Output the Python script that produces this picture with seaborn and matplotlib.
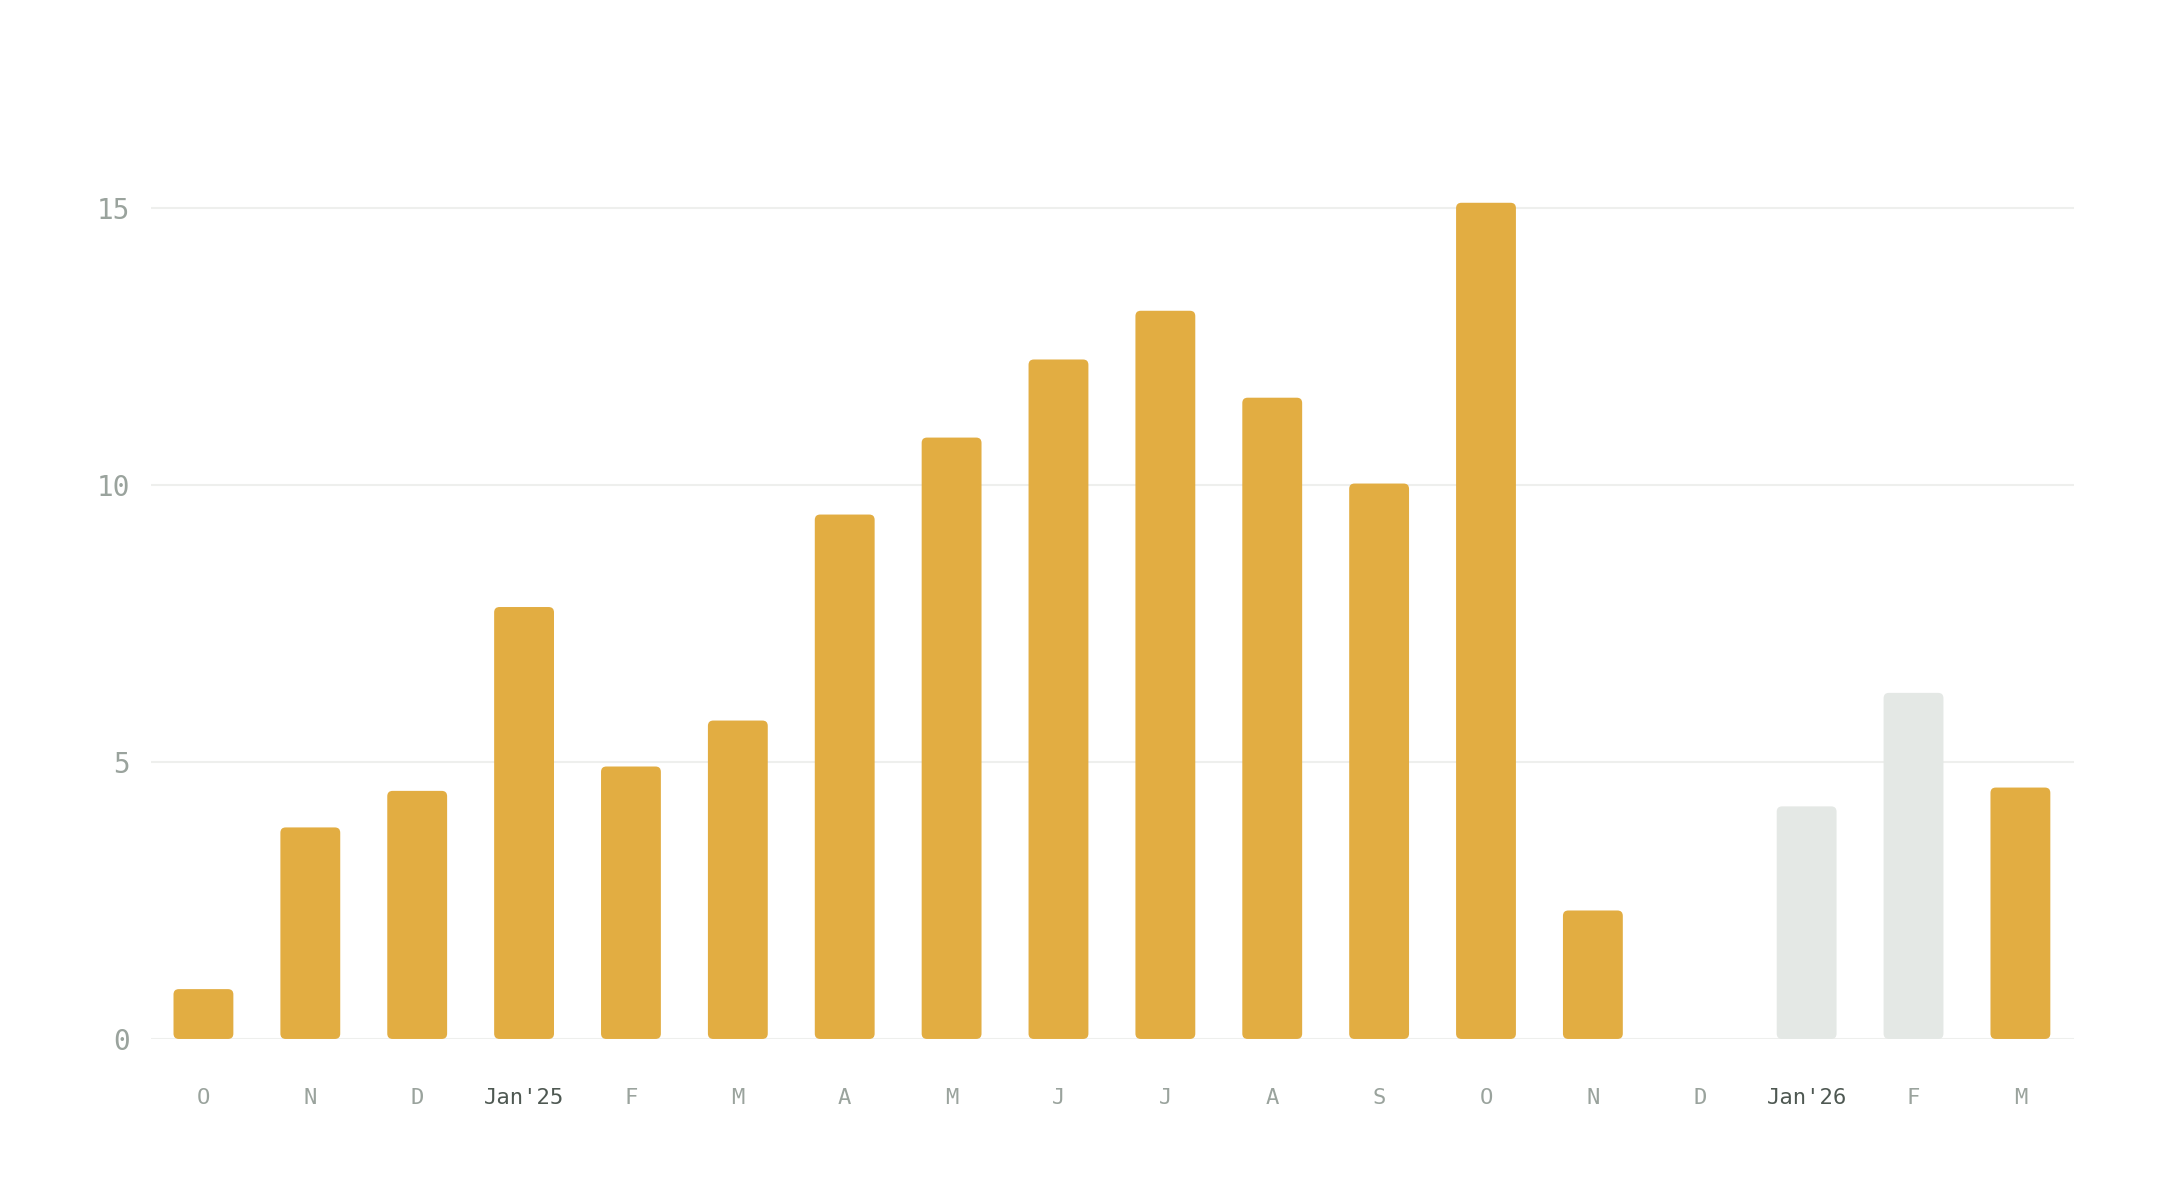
import matplotlib
matplotlib.use("Agg")
import matplotlib.pyplot as plt
from matplotlib.patches import FancyBboxPatch
import seaborn as sns
import pandas as pd

# monthly values, Oct 2024 .. Mar 2026
months = ["O", "N", "D", "Jan'25", "F", "M", "A", "M", "J", "J", "A", "S",
          "O", "N", "D", "Jan'26", "F", "M"]
values = [0.9, 3.82, 4.48, 7.8, 4.92, 5.75, 9.47, 10.86, 12.27, 13.15, 11.58, 10.03,
          15.1, 2.32, 0.0, 4.2, 6.25, 4.54]
status = ["actual"] * 15 + ["pending", "pending", "actual"]

palette = {"actual": "#E2AD42", "pending": "#E4E8E5"}

df = pd.DataFrame({"pos": range(len(months)), "value": values, "status": status})

sns.set_style("white")
plt.rcParams["font.family"] = ["DejaVu Sans Mono"]

fig = plt.figure(figsize=(21.58, 11.84), dpi=100)
ax = fig.add_axes([0.070, 0.1225, 0.891, 0.84])

sns.barplot(data=df, x="pos", y="value", hue="status", palette=palette,
            saturation=1, dodge=False, legend=False, width=0.56, ax=ax, zorder=3)

# swap plain rectangles for rounded ones
aspect = 1.93
for p in list(ax.patches):
    x, y = p.get_x(), p.get_y()
    w, h = p.get_width(), p.get_height()
    fc = p.get_facecolor()
    p.remove()
    if h <= 0:
        continue
    ax.add_patch(FancyBboxPatch((x, y), w, h,
                                boxstyle="round,pad=0,rounding_size=0.05",
                                mutation_aspect=aspect, fc=fc, ec="none", zorder=3))

ax.set_xlim(-0.49, 17.5)
ax.set_ylim(0, 17.96)
ax.set_yticks([0, 5, 10, 15])
ax.set_xticks(range(len(months)))
ax.set_xticklabels(months)
ax.set_xlabel("")
ax.set_ylabel("")

ax.grid(axis="y", color="#EEEFED", linewidth=1.5, zorder=0)
ax.set_axisbelow(True)
for s in ax.spines.values():
    s.set_visible(False)

ax.tick_params(axis="y", length=0, pad=15, labelsize=20, labelcolor="#9AA39D")
ax.tick_params(axis="x", length=0, pad=35, labelsize=16, labelcolor="#9AA39D")
for lbl in ax.get_xticklabels():
    if lbl.get_text().startswith("Jan"):
        lbl.set_color("#4E5852")

fig.savefig("out.png", dpi=100, facecolor="white")
